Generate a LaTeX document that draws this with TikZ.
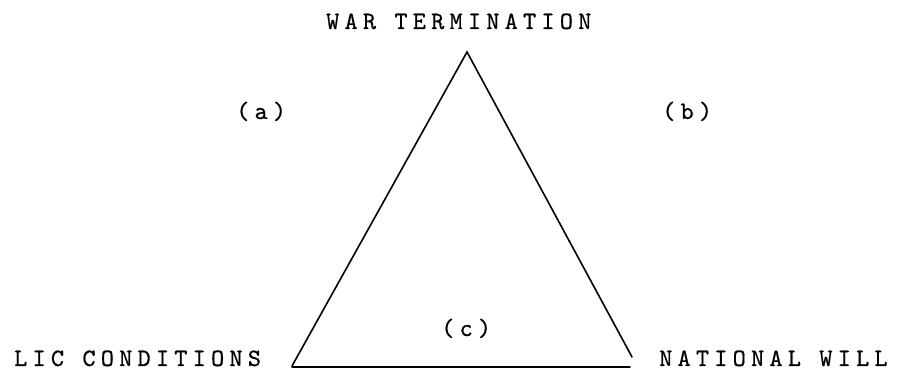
\documentclass[tikz,border=0pt]{standalone}
\usepackage{fontspec}
\newfontfamily\twfont{lmmono10-regular}[Extension=.otf, LetterSpace=21, FakeBold=0.6]
\newcommand{\trimls}{\kern-0.21em}
\begin{document}
\begin{tikzpicture}[x=1pt,y=-1pt,
  lbl/.style={inner sep=0pt, font=\twfont\fontsize{25}{25}\selectfont},
  edge/.style={line width=1.6pt, line cap=round}]
\useasboundingbox (0,0) rectangle (900,371);
\coordinate (apex) at (467,52);
\coordinate (bl) at (292,366);
\coordinate (br) at (632,357);
\coordinate (bb) at (630,367);
\coordinate (bbl) at (292,367);
\node[lbl, anchor=base west] (war) at (326,29) {WAR TERMINATION\trimls};
\node[lbl, anchor=base west] (lic) at (14,366) {LIC CONDITIONS\trimls};
\node[lbl, anchor=base west] (nat) at (659,366) {NATIONAL WILL\trimls};
\node[lbl, anchor=base west] (a) at (236,119) {(a)\trimls};
\node[lbl, anchor=base west] (b) at (662,119) {(b)\trimls};
\node[lbl, anchor=base west] (c) at (441,336) {(c)\trimls};
\draw[edge] (bl) -- (apex) -- (br);
\draw[edge] (bbl) -- (bb);
\end{tikzpicture}
\end{document}
